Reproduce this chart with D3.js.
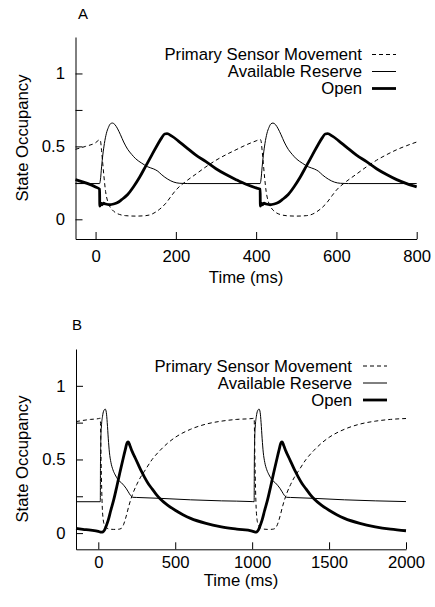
<!DOCTYPE html>
<html lang="en">
<head>
<meta charset="UTF-8">
<title>State Occupancy</title>
<script src="https://d3js.org/d3.v7.min.js"></script>
<style>
  body { margin: 0; background: #fff; }
  svg { display: block; font-family: "Liberation Sans", Arial, Helvetica, sans-serif; }
</style>
</head>
<body>
<svg width="435" height="607"></svg>
<script>
// values, [time (ms), occupancy]
// panel A
const sensorA = [[-50,0.48],[-25,0.5],[0,0.525],[10,0.545],[12,0.54],[15,0.47],[18,0.38],[21,0.29],[25,0.19],[30,0.125],[35,0.09],[40,0.07],[50,0.045],[60,0.033],[75,0.025],[100,0.022],[125,0.025],[140,0.035],[150,0.05],[160,0.07],[175,0.11],[190,0.165],[200,0.2],[225,0.26],[250,0.31],[275,0.36],[300,0.405],[325,0.443],[350,0.477],[375,0.51],[400,0.538],[410,0.548],
  [412,0.54],[415,0.47],[418,0.38],[421,0.29],[425,0.19],[430,0.125],[435,0.09],[440,0.07],[450,0.045],[460,0.033],[475,0.025],[500,0.022],[525,0.025],[540,0.035],[550,0.05],[560,0.07],[575,0.11],[590,0.165],[600,0.2],[625,0.26],[650,0.31],[675,0.36],[700,0.405],[725,0.443],[750,0.477],[775,0.505],[800,0.53]];
const reserveA = [[-50,0.245],[10,0.245],[12,0.27],[15,0.36],[18,0.44],[22,0.52],[27,0.59],[32,0.63],[37,0.655],[42,0.66],[48,0.65],[55,0.62],[62,0.58],[70,0.53],[80,0.48],[90,0.445],[100,0.415],[115,0.385],[130,0.36],[145,0.345],[155,0.33],[165,0.305],[180,0.275],[195,0.255],[210,0.247],[230,0.245],[410,0.245],
  [412,0.27],[415,0.36],[418,0.44],[422,0.52],[427,0.59],[432,0.63],[437,0.655],[442,0.66],[448,0.65],[455,0.62],[462,0.58],[470,0.53],[480,0.48],[490,0.445],[500,0.415],[515,0.385],[530,0.36],[545,0.345],[555,0.33],[565,0.305],[580,0.275],[595,0.255],[610,0.247],[630,0.245],[800,0.245]];
const openA = [[-50,0.272],[0,0.222],[10,0.207],[10.5,0.09],[13,0.11],[16,0.1],[20,0.11],[25,0.105],[35,0.1],[45,0.105],[55,0.115],[65,0.135],[80,0.17],[95,0.225],[110,0.29],[125,0.365],[140,0.44],[155,0.515],[165,0.56],[172,0.585],[178,0.587],[190,0.57],[205,0.54],[225,0.495],[250,0.44],[275,0.395],[300,0.347],[325,0.307],[350,0.272],[375,0.24],[400,0.215],[410,0.207],
  [410.5,0.09],[413,0.11],[416,0.1],[420,0.11],[425,0.105],[435,0.1],[445,0.105],[455,0.115],[465,0.135],[480,0.17],[495,0.225],[510,0.29],[525,0.365],[540,0.44],[555,0.515],[565,0.56],[572,0.585],[578,0.587],[590,0.57],[605,0.54],[625,0.495],[650,0.44],[675,0.395],[700,0.347],[725,0.307],[750,0.272],[775,0.245],[800,0.222]];

// panel B
const sensorB = [[-145,0.757],[-100,0.765],[-50,0.772],[0,0.777],[13,0.78],[15,0.7],[18,0.5],[22,0.3],[26,0.17],[31,0.1],[38,0.06],[50,0.04],[70,0.028],[100,0.025],[130,0.026],[150,0.032],[165,0.06],[180,0.11],[200,0.19],[225,0.27],[250,0.33],[275,0.38],[300,0.42],[350,0.5],[400,0.56],[450,0.61],[500,0.65],[600,0.705],[700,0.74],[800,0.76],[900,0.772],[1000,0.778],[1013,0.78],
  [1015,0.7],[1018,0.5],[1022,0.3],[1026,0.17],[1031,0.1],[1038,0.06],[1050,0.04],[1070,0.028],[1100,0.025],[1130,0.026],[1150,0.032],[1165,0.06],[1180,0.11],[1200,0.19],[1225,0.27],[1250,0.33],[1275,0.38],[1300,0.42],[1350,0.5],[1400,0.56],[1450,0.61],[1500,0.65],[1600,0.705],[1700,0.74],[1800,0.76],[1900,0.772],[2000,0.778]];
const reserveB = [[-145,0.213],[13,0.213],[14,0.45],[16,0.62],[20,0.72],[27,0.79],[35,0.83],[45,0.842],[52,0.82],[58,0.75],[65,0.64],[72,0.55],[82,0.48],[95,0.43],[110,0.395],[130,0.36],[150,0.342],[165,0.325],[180,0.305],[195,0.28],[210,0.255],[225,0.243],[250,0.242],[400,0.236],[600,0.226],[800,0.219],[1000,0.214],[1013,0.213],
  [1014,0.45],[1016,0.62],[1020,0.72],[1027,0.79],[1035,0.83],[1045,0.842],[1052,0.82],[1058,0.75],[1065,0.64],[1072,0.55],[1082,0.48],[1095,0.43],[1110,0.395],[1130,0.36],[1150,0.342],[1165,0.325],[1180,0.305],[1195,0.28],[1210,0.255],[1225,0.243],[1250,0.242],[1400,0.236],[1600,0.226],[1800,0.219],[2000,0.214]];
const openB = [[-145,0.032],[-100,0.026],[-50,0.02],[0,0.012],[20,0.006],[30,0.008],[40,0.02],[50,0.045],[65,0.09],[80,0.15],[100,0.225],[120,0.315],[140,0.41],[160,0.5],[175,0.565],[188,0.615],[195,0.62],[205,0.595],[220,0.555],[240,0.51],[260,0.465],[280,0.42],[300,0.38],[325,0.335],[350,0.3],[375,0.265],[400,0.235],[450,0.19],[500,0.155],[550,0.125],[600,0.1],[700,0.066],[800,0.043],[900,0.027],[1000,0.014],
  [1020,0.006],[1030,0.008],[1040,0.02],[1050,0.045],[1065,0.09],[1080,0.15],[1100,0.225],[1120,0.315],[1140,0.41],[1160,0.5],[1175,0.565],[1188,0.615],[1195,0.62],[1205,0.595],[1220,0.555],[1240,0.51],[1260,0.465],[1280,0.42],[1300,0.38],[1325,0.335],[1350,0.3],[1375,0.265],[1400,0.235],[1450,0.19],[1500,0.155],[1550,0.125],[1600,0.1],[1700,0.066],[1800,0.043],[1900,0.027],[2000,0.016]];

const seriesNames = ["Primary Sensor Movement", "Available Reserve", "Open"];
const xTicksA = [0, 200, 400, 600, 800];
const xTicksB = [0, 500, 1000, 1500, 2000];
const yTicks = [0, 0.25, 0.5, 0.75, 1];
const yLabelled = [0, 0.5, 1];

// line styles, same order as seriesNames
const styles = [
    {width: 1, dash: "4,3"},
    {width: 1, dash: null},
    {width: 2.8, dash: null}
];
const fontSize = 16.7;

const svg = d3.select("svg");
svg.append("rect").attr("width", 435).attr("height", 607).attr("fill", "#fff");

function drawPanel(p) {
    const x = d3.scaleLinear().domain(p.xDomain).range(p.xRange);
    const y = d3.scaleLinear().domain(p.yDomain).range(p.yRange);
    const g = svg.append("g");

    // axes, ticks pointing inward
    g.append("g")
        .attr("transform", `translate(0,${p.yRange[0]})`)
        .call(d3.axisBottom(x).tickValues(p.xTicks).tickSizeInner(-7).tickSizeOuter(0)
            .tickPadding(p.xPad).tickFormat(d3.format("d")));
    g.append("g")
        .attr("transform", `translate(${p.xRange[0]},0)`)
        .call(d3.axisLeft(y).tickValues(yTicks).tickSizeInner(-7).tickSizeOuter(0)
            .tickPadding(10.5).tickFormat(d => yLabelled.includes(d) ? d3.format("~g")(d) : ""));
    g.selectAll(".domain, .tick line").attr("stroke", "#000").attr("stroke-width", 1);
    g.selectAll(".tick text").attr("font-size", fontSize).attr("fill", "#000")
        .attr("font-family", "Liberation Sans, Arial, sans-serif");

    // curves
    const line = d3.line()
        .x(d => x(d[0]))
        .y(d => y(d[1]))
        .curve(d3.curveMonotoneX);
    p.series.forEach((s, i) => {
        g.append("path")
            .datum(s)
            .attr("fill", "none")
            .attr("stroke", "#000")
            .attr("stroke-width", styles[i].width)
            .attr("stroke-dasharray", styles[i].dash)
            .attr("stroke-linejoin", "round")
            .attr("d", line);
    });

    // legend
    seriesNames.forEach((name, i) => {
        const ly = p.legend.y + i * 17;
        g.append("text")
            .attr("x", p.legend.textX).attr("y", ly).attr("dy", "0.33em")
            .attr("text-anchor", "end").attr("font-size", fontSize)
            .text(name);
        g.append("line")
            .attr("x1", p.legend.x1).attr("x2", p.legend.x2)
            .attr("y1", ly).attr("y2", ly)
            .attr("stroke", "#000")
            .attr("stroke-width", styles[i].width)
            .attr("stroke-dasharray", styles[i].dash);
    });

    // labels
    g.append("text")
        .attr("x", d3.mean(p.xRange)).attr("y", p.xLabelY)
        .attr("text-anchor", "middle").attr("font-size", fontSize)
        .text("Time (ms)");
    g.append("text")
        .attr("transform", `translate(28,${p.yLabelY}) rotate(-90)`)
        .attr("text-anchor", "middle").attr("font-size", fontSize)
        .text("State Occupancy");
    g.append("text")
        .attr("x", p.letterX).attr("y", p.letterY)
        .attr("font-size", 15)
        .text(p.letter);
}

drawPanel({
    letter: "A", letterX: 78, letterY: 18.5,
    xDomain: [-50, 800], xRange: [75.5, 416.7],
    yDomain: [-0.135, 1.25], yRange: [239, 37],
    xTicks: xTicksA, xPad: 11.5, xLabelY: 283, yLabelY: 138,
    series: [sensorA, reserveA, openA],
    legend: {y: 54.5, textX: 362, x1: 372, x2: 396}
});

drawPanel({
    letter: "B", letterX: 72, letterY: 330,
    xDomain: [-145, 2000], xRange: [76, 406],
    yDomain: [-0.11, 1.25], yRange: [549.3, 349],
    xTicks: xTicksB, xPad: 6.5, xLabelY: 586, yLabelY: 459,
    series: [sensorB, reserveB, openB],
    legend: {y: 366, textX: 352, x1: 363, x2: 387}
});
</script>
</body>
</html>
